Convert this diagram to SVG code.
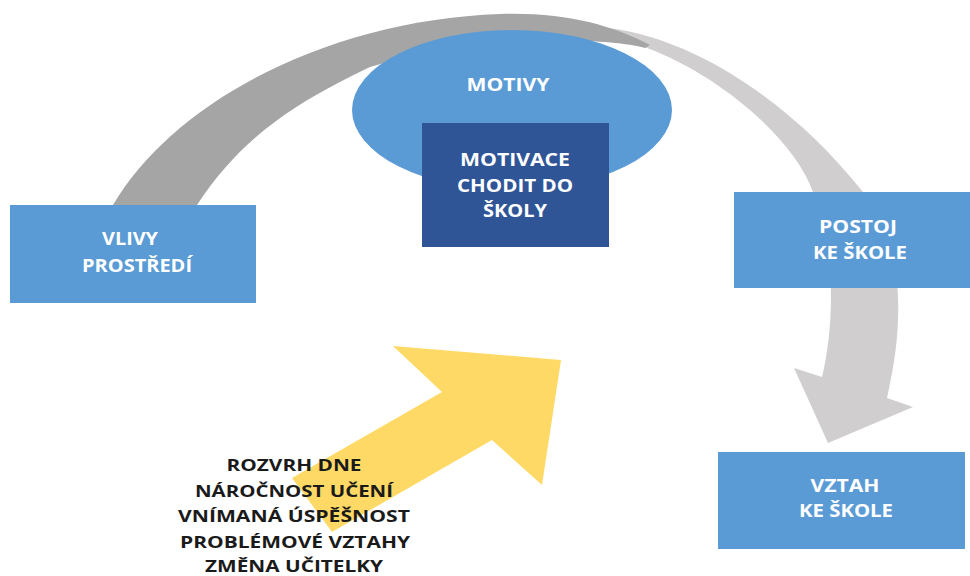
<svg xmlns="http://www.w3.org/2000/svg" width="970" height="576" viewBox="0 0 970 576">
<style>
.box{fill:#5B9BD5}
.dark{fill:#2F5597}
.wt{font-family:"Open Sans","Liberation Sans",sans-serif;font-weight:bold;font-size:17px;fill:#FFFFFF;text-anchor:middle}
.bt{font-family:"Open Sans","Liberation Sans",sans-serif;font-weight:bold;font-size:16.5px;fill:#1A1A1A;text-anchor:middle}
</style>
<rect width="970" height="576" fill="#FFFFFF"/>
<g id="connectors">
<path id="arc-front" fill="#D0CECE" d="M 600 27 C 690 35, 790 100, 863 192 C 890 230, 900 270, 898 320 C 897 350, 892 375, 887 398 L 913 407 L 828 443 L 794 368 L 822 377 C 836 320, 834 240, 813 192 C 795 140, 720 75, 647 48 C 630 40, 615 32, 600 27 Z"/>
<path id="arc-back" fill="#A5A5A5" d="M 113 205 C 175 100, 330 20, 500 14 C 565 12, 612 25, 650 45 L 645 48 C 600 36, 470 36, 370 67 C 290 105, 240 140, 197 205 Z"/>
<polygon id="yellow-arrow" fill="#FFD966" points="393,346 561,360 542,485 492,440 332,532 292,478 442,392"/>
</g>
<g id="motivy">
<ellipse cx="512" cy="110" rx="160" ry="80" class="box"/>
<text x="508" y="91" class="wt" textLength="83" lengthAdjust="spacingAndGlyphs">MOTIVY</text>
</g>
<g id="motivace">
<rect x="422" y="123" width="187" height="124" class="dark"/>
<text x="515" y="166" class="wt" textLength="110" lengthAdjust="spacingAndGlyphs">MOTIVACE</text>
<text x="515" y="192" class="wt" textLength="116" lengthAdjust="spacingAndGlyphs">CHODIT DO</text>
<text x="515" y="217" class="wt" textLength="64" lengthAdjust="spacingAndGlyphs">ŠKOLY</text>
</g>
<g id="vlivy">
<rect x="10" y="205" width="246" height="98" class="box"/>
<text x="130" y="245" class="wt" textLength="56" lengthAdjust="spacingAndGlyphs">VLIVY</text>
<text x="137" y="272" class="wt" textLength="110" lengthAdjust="spacingAndGlyphs">PROSTŘEDÍ</text>
</g>
<g id="postoj">
<rect x="734" y="192" width="236" height="96" class="box"/>
<text x="858" y="233" class="wt" textLength="78" lengthAdjust="spacingAndGlyphs">POSTOJ</text>
<text x="860" y="259" class="wt" textLength="94" lengthAdjust="spacingAndGlyphs">KE ŠKOLE</text>
</g>
<g id="vztah">
<rect x="718" y="452" width="247" height="97" class="box"/>
<text x="845" y="492" class="wt" textLength="69" lengthAdjust="spacingAndGlyphs">VZTAH</text>
<text x="846" y="517" class="wt" textLength="94" lengthAdjust="spacingAndGlyphs">KE ŠKOLE</text>
</g>
<g id="factors">
<text x="294" y="471" class="bt" textLength="135" lengthAdjust="spacingAndGlyphs">ROZVRH DNE</text>
<text x="294" y="496.5" class="bt" textLength="198" lengthAdjust="spacingAndGlyphs">NÁROČNOST UČENÍ</text>
<text x="294" y="522" class="bt" textLength="232" lengthAdjust="spacingAndGlyphs">VNÍMANÁ ÚSPĚŠNOST</text>
<text x="295" y="547.5" class="bt" textLength="230" lengthAdjust="spacingAndGlyphs">PROBLÉMOVÉ VZTAHY</text>
<text x="294" y="572" class="bt" textLength="178" lengthAdjust="spacingAndGlyphs">ZMĚNA UČITELKY</text>
</g>
</svg>
